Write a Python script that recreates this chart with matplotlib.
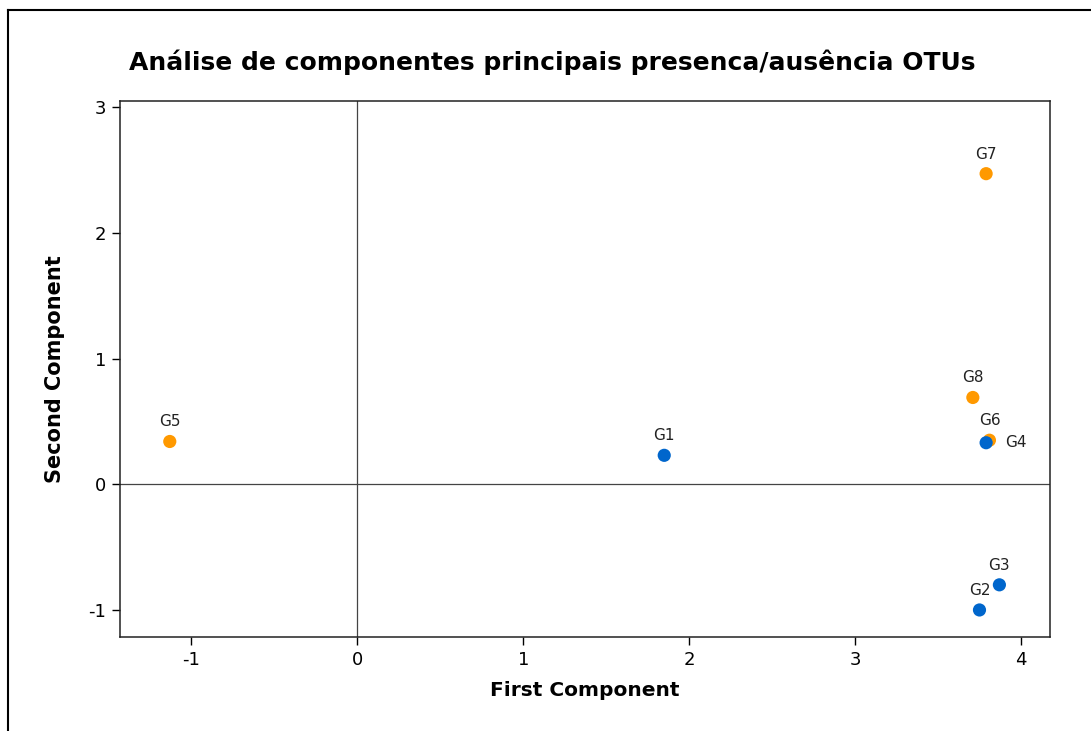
import matplotlib.pyplot as plt
from matplotlib.lines import Line2D

plt.rcParams['axes.unicode_minus'] = False

# Scores dos grupos nas duas primeiras componentes
grupos = ['G1', 'G2', 'G3', 'G4', 'G5', 'G6', 'G7', 'G8']
pc1 = [1.85, 3.75, 3.87, 3.79, -1.13, 3.81, 3.79, 3.71]
pc2 = [0.23, -1.00, -0.80, 0.33, 0.34, 0.35, 2.47, 0.69]
cores = ['#0066CC', '#0066CC', '#0066CC', '#0066CC',
         '#FF9900', '#FF9900', '#FF9900', '#FF9900']

# deslocamento do rotulo em pixels (dx, dy)
offsets = {'G4': (30, 0)}

fig = plt.figure(figsize=(10.91, 7.31), dpi=100)
ax = fig.add_axes([120/1091, 1 - 637/731, 930/1091, 536/731])

# moldura da figura so em cima e na esquerda
fig.add_artist(Line2D([8/1091, 8/1091], [0, 1 - 10/731], color='black', lw=1.5))
fig.add_artist(Line2D([8/1091, 1], [1 - 10/731, 1 - 10/731], color='black', lw=1.5))

ax.axhline(0, color='#444444', lw=0.9, zorder=1)
ax.axvline(0, color='#444444', lw=0.9, zorder=1)

# desenha G6 antes de G4 para o azul ficar por cima
ordem = [4, 0, 1, 2, 5, 3, 6, 7]
for i in ordem:
    ax.scatter(pc1[i], pc2[i], s=90, color=cores[i], edgecolors='none', zorder=3)
    dx, dy = offsets.get(grupos[i], (0, 12))
    ax.annotate(grupos[i], (pc1[i], pc2[i]), xytext=(dx, dy), textcoords='offset pixels',
                ha='center', va='bottom' if dy > 0 else 'center', fontsize=11, color='#222222')

ax.set_xlim(-1.43, 4.175)
ax.set_ylim(-1.215, 3.048)
ax.set_xticks([-1, 0, 1, 2, 3, 4])
ax.set_yticks([-1, 0, 1, 2, 3])
ax.tick_params(direction='out', length=6, width=1, labelsize=13, pad=4)
for s in ax.spines.values():
    s.set_linewidth(1.1)
    s.set_color('#222222')

ax.set_xlabel('First Component', fontsize=14.5, fontweight='bold', labelpad=9)
ax.set_ylabel('Second Component', fontsize=15, fontweight='bold', labelpad=17)
fig.text(552/1091, 1 - 62/731, 'Análise de componentes principais presenca/ausência OTUs',
         ha='center', va='center', fontsize=18, fontweight='bold')

fig.savefig('out.png', dpi=100)
